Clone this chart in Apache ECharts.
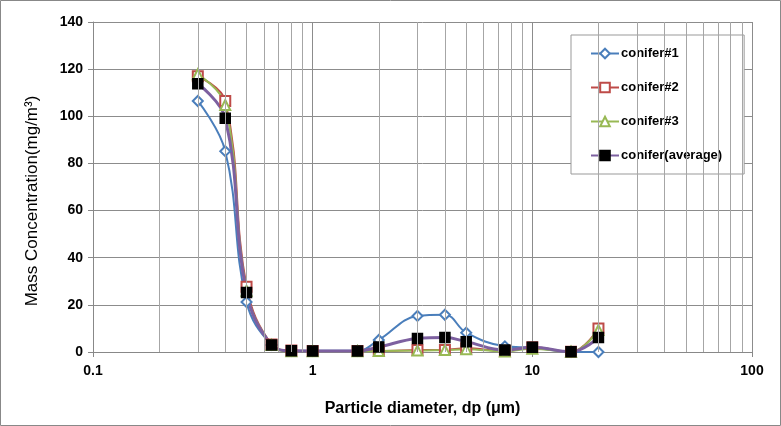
<!DOCTYPE html>
<html><head><meta charset="utf-8">
<script src="https://cdn.jsdelivr.net/npm/echarts@6/dist/echarts.min.js"></script>
<style>html,body{margin:0;padding:0;background:#fff;}#c{width:781px;height:426px;}</style>
</head><body><div id="c"></div>
<script>
const diameters = [0.3, 0.4, 0.5, 0.65, 0.8, 1.0, 1.6, 2.0, 3.0, 4.0, 5.0, 7.5, 10, 15, 20];
const conifer1 = [106.5, 85.2, 21.2, 3.0, 0.5, 0.5, 0.5, 5.1, 15.3, 15.8, 8.2, 2.4, 1.8, 0.1, 0];
const conifer2 = [117.0, 106.5, 27.7, 3.2, 0.6, 0.4, 0.4, 0.4, 0.8, 0.9, 1.6, 0.4, 2.0, 0.1, 10.0];
const conifer3 = [117.8, 104.8, 26.0, 3.0, 0.3, 0.3, 0.3, 0.4, 0.6, 0.8, 1.2, 0.2, 1.4, 0.1, 9.3];
const coniferAvg = [113.8, 99.2, 25.2, 3.0, 0.5, 0.4, 0.4, 2.1, 5.7, 6.1, 4.4, 0.8, 2.0, 0.1, 6.1];
const seriesNames = ['conifer#1', 'conifer#2', 'conifer#3', 'conifer(average)'];
const minorGridX = [0.2,0.3,0.4,0.5,0.6,0.7,0.8,0.9,2,3,4,5,6,7,8,9,20,30,40,50,60,70,80,90];

const pairs = arr => diameters.map((d, i) => [d, arr[i]]);
const font = 'Liberation Sans, Arial, sans-serif';
const chart = echarts.init(document.getElementById('c'));

function lineSeries(name, data, color, symbol, size, width, markerColor) {
  return {
    name, type: 'line', data: pairs(data), smooth: 0.4, clip: false, z: 3,
    symbol, symbolSize: size, showAllSymbol: true,
    lineStyle: { color, width },
    itemStyle: { color: markerColor, borderColor: markerColor, borderWidth: 1.5 },
    emphasis: { disabled: true }
  };
}

chart.setOption({
  animation: false,
  backgroundColor: '#fff',
  graphic: [{ type: 'rect', shape: { x: 0.5, y: 0.5, width: 780, height: 425 }, style: { fill: 'none', stroke: '#888', lineWidth: 1 }, silent: true }],
  grid: { left: 93, right: 29, top: 22, bottom: 74 },
  legend: {
    orient: 'vertical', left: 571, top: 35,
    padding: [12, 22, 12, 19], itemGap: 21, itemWidth: 28, itemHeight: 12,
    backgroundColor: '#fff', borderColor: '#999', borderWidth: 1,
    textStyle: { fontFamily: font, fontWeight: 'bold', fontSize: 13, color: '#000', padding: [0, 0, 0, -3] },
    data: seriesNames
  },
  xAxis: {
    type: 'log', logBase: 10, min: 0.1, max: 100,
    name: 'Particle diameter, dp (μm)', nameLocation: 'middle', nameGap: 49,
    nameTextStyle: { fontFamily: font, fontWeight: 'bold', fontSize: 16, color: '#000' },
    axisLine: { show: true, onZero: false, lineStyle: { color: '#888' } },
    axisTick: { show: true, length: 5, lineStyle: { color: '#888' } },
    axisLabel: { fontFamily: font, fontWeight: 'bold', fontSize: 14, color: '#000', margin: 12,
      formatter: v => String(v) },
    splitLine: { show: true, lineStyle: { color: '#8c8c8c', width: 1 } }
  },
  yAxis: {
    type: 'value', min: 0, max: 140, interval: 20,
    name: 'Mass Concentration(mg/m³)', nameLocation: 'middle', nameGap: 52,
    nameTextStyle: { fontFamily: font, fontSize: 17, color: '#000', padding: [0, 28, 0, 0] },
    axisLine: { show: true, lineStyle: { color: '#888' } },
    axisTick: { show: true, length: 5, lineStyle: { color: '#888' } },
    axisLabel: { fontFamily: font, fontWeight: 'bold', fontSize: 14, color: '#000', margin: 10 },
    splitLine: { show: true, lineStyle: { color: '#8c8c8c', width: 1 } }
  },
  series: [
    {
      name: 'minor', type: 'line', data: [], z: 1, silent: true,
      markLine: {
        silent: true, symbol: ['none', 'none'], label: { show: false },
        lineStyle: { type: 'solid', color: '#a6a6a6', width: 1 },
        emphasis: { disabled: true },
        data: minorGridX.map(v => ({ xAxis: v }))
      }
    },
    lineSeries('conifer#1', conifer1, '#4A7EBB', 'emptyDiamond', 10, 2, '#4A7EBB'),
    lineSeries('conifer#2', conifer2, '#BE4B48', 'emptyRect', 10, 2, '#BE4B48'),
    lineSeries('conifer#3', conifer3, '#98B954', 'emptyTriangle', 10, 2, '#98B954'),
    lineSeries('conifer(average)', coniferAvg, '#7D60A0', 'rect', 10, 3, '#000')
  ]
});
</script></body></html>
